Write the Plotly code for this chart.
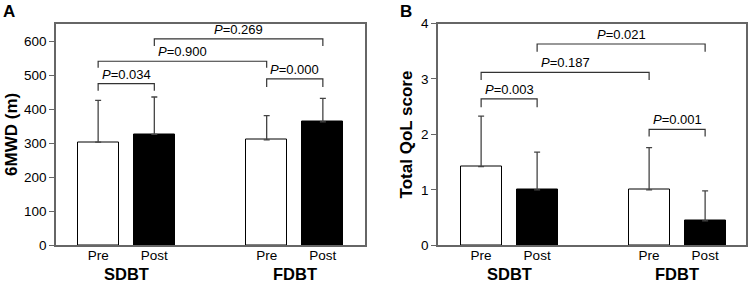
import plotly.graph_objects as go

positions = [0, 1, 3, 4]
tick_labels = ["Pre", "Post", "Pre", "Post"]
groups = ["SDBT", "FDBT"]
group_pos = [0.5, 3.5]
fill_colors = ["white", "black", "white", "black"]

mwd_means = [303, 326, 310, 363]
mwd_sd = [123, 110, 71, 69]
qol_means = [1.42, 1.00, 1.00, 0.44]
qol_sd = [0.91, 0.68, 0.76, 0.54]

# brackets: (x1, x2, line level, drop level, label)
mwd_brackets = [
    (0, 1, 475, 454, "0.034"),
    (0, 3, 541, 522, "0.900"),
    (1, 4, 607, 586, "0.269"),
    (3, 4, 489, 465, "0.000"),
]
qol_brackets = [
    (0, 1, 2.64, 2.49, "0.003"),
    (0, 3, 3.12, 2.98, "0.187"),
    (1, 4, 3.63, 3.49, "0.021"),
    (3, 4, 2.09, 1.96, "0.001"),
]

FONT = "Liberation Sans, Arial, sans-serif"
W, H = 748, 283
fig = go.Figure()

ydom = [1 - 245.3 / H, 1 - 23.5 / H]

def add_panel(xa, means, sds, brackets):
    xref = "x" if xa == 1 else f"x{xa}"
    yref = "y" if xa == 1 else f"y{xa}"
    fig.add_trace(go.Bar(
        x=positions, y=means, width=0.73,
        marker=dict(color=fill_colors, line=dict(color="black", width=1)),
        error_y=dict(type="data", array=sds, arrayminus=[0]*len(sds), symmetric=False,
                     color="#444", thickness=1.3, width=3),
        xaxis=xref, yaxis=yref, showlegend=False, hoverinfo="skip",
    ))
    for x1, x2, lvl, drop, lab in brackets:
        fig.add_trace(go.Scatter(
            x=[x1, x1, x2, x2], y=[drop, lvl, lvl, drop], mode="lines",
            line=dict(color="#333", width=1.2), xaxis=xref, yaxis=yref,
            showlegend=False, hoverinfo="skip",
        ))
        fig.add_annotation(x=(x1 + x2) / 2, y=lvl, xref=xref, yref=yref,
                           text=f"<i>P</i>=" + lab, showarrow=False,
                           yanchor="bottom", yshift=0,
                           font=dict(family=FONT, size=13, color="black"))
    for gx, g in zip(group_pos, groups):
        fig.add_annotation(x=gx, y=1 - 274 / H, xref=xref, yref="paper",
                           text=f"<b>{g}</b>", showarrow=False, yanchor="middle",
                           font=dict(family=FONT, size=16.5, color="black"))

add_panel(1, mwd_means, mwd_sd, mwd_brackets)
add_panel(2, qol_means, qol_sd, qol_brackets)

common_x = dict(tickvals=positions, ticktext=tick_labels, showline=True, mirror=True,
                linecolor="#666", linewidth=1.5, ticks="", showgrid=False, zeroline=False,
                ticklabelstandoff=-3,
                tickfont=dict(family=FONT, size=13.5, color="black"), fixedrange=True)
common_y = dict(showline=True, mirror=True, linecolor="#666", linewidth=1.5,
                ticks="outside", ticklen=5, tickcolor="#666", tickwidth=1.2,
                showgrid=False, zeroline=False,
                tickfont=dict(family=FONT, size=13.5, color="black"), fixedrange=True)

fig.update_layout(
    width=W, height=H,
    margin=dict(l=0, r=0, t=0, b=0, autoexpand=False),
    plot_bgcolor="white", paper_bgcolor="white",
    bargap=0,
    xaxis=dict(domain=[56 / W, 365 / W], range=[-0.75, 4.75], anchor="y", **common_x),
    yaxis=dict(domain=ydom, range=[0, 652], anchor="x", tickvals=[0, 100, 200, 300, 400, 500, 600],
               **common_y),
    xaxis2=dict(domain=[438 / W, 746 / W], range=[-0.77, 4.73], anchor="y2", **common_x),
    yaxis2=dict(domain=ydom, range=[0, 4], anchor="x2", tickvals=[0, 1, 2, 3, 4],
                **common_y),
)

ymid = (ydom[0] + ydom[1]) / 2
fig.add_annotation(x=0, y=ymid, xref="paper", yref="paper", text="<b>6MWD (m)</b>",
                   textangle=-90, showarrow=False, xanchor="left", yanchor="middle",
                   font=dict(family=FONT, size=17, color="black"))
fig.add_annotation(x=406 / W, y=ymid, xref="paper", yref="paper", text="<b>Total QoL score</b>",
                   textangle=-90, showarrow=False, xanchor="center", yanchor="middle",
                   font=dict(family=FONT, size=17, color="black"))

fig.add_annotation(x=1 / W, y=1, xref="paper", yref="paper", text="<b>A</b>",
                   showarrow=False, xanchor="left", yanchor="top",
                   font=dict(family=FONT, size=17, color="black"))
fig.add_annotation(x=398 / W, y=1, xref="paper", yref="paper", text="<b>B</b>",
                   showarrow=False, xanchor="left", yanchor="top",
                   font=dict(family=FONT, size=17, color="black"))

fig.write_html("out.html", config={"displayModeBar": False},
               post_script="document.body.style.margin='0';document.body.style.overflow='hidden';")
